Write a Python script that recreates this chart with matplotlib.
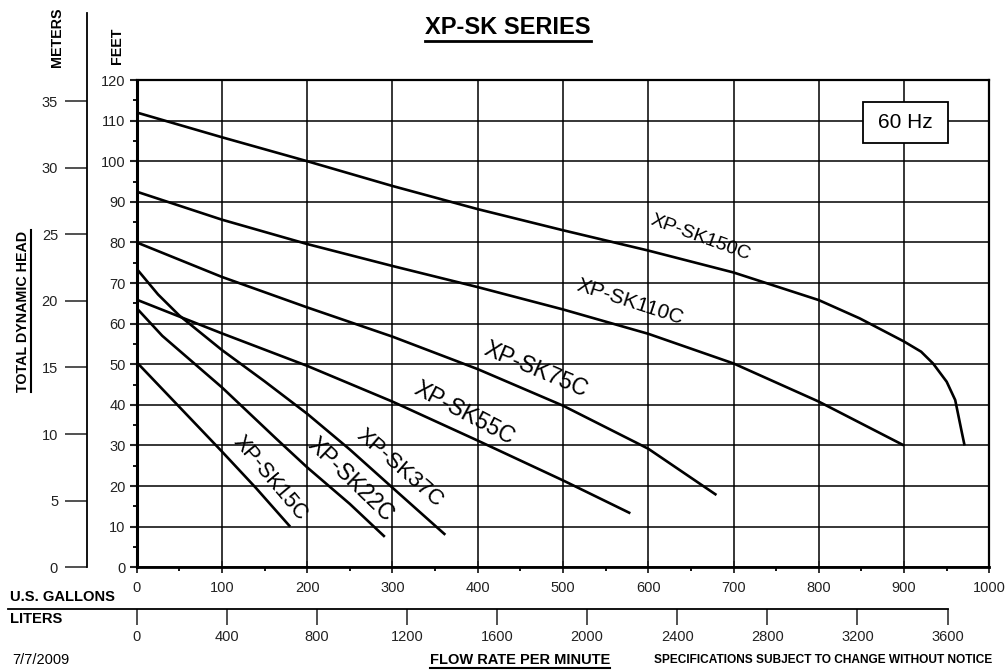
import numpy as np
import matplotlib.pyplot as plt
from matplotlib.lines import Line2D
from matplotlib.patches import Rectangle

plt.rcParams['font.family'] = ['Liberation Sans', 'DejaVu Sans']

# pump curves: flow in US gpm, head in feet
gpm_150 = [0, 100, 200, 300, 400, 500, 600, 700, 800, 848, 900, 920, 934, 950, 960, 964, 968, 971]
ft_150 = [112, 105.9, 100, 93.9, 88.2, 83, 78, 72.6, 65.8, 61.3, 55.6, 53.1, 50.2, 45.7, 41.2, 37.1, 33, 30]

gpm_110 = [0, 100, 200, 300, 400, 500, 600, 700, 800, 900]
ft_110 = [92.5, 85.6, 79.6, 74.2, 69, 63.5, 57.5, 50.2, 40.8, 30]

gpm_75 = [0, 100, 200, 300, 400, 500, 600, 680]
ft_75 = [80, 71.5, 64, 56.8, 48.8, 39.8, 29.2, 17.8]

gpm_55 = [0, 100, 200, 300, 400, 500, 579]
ft_55 = [65.9, 57.6, 49.6, 40.8, 31.2, 21.4, 13.3]

gpm_37 = [0, 25, 50, 100, 150, 200, 250, 300, 362]
ft_37 = [73.5, 67.2, 62, 53.5, 45.8, 37.8, 29, 19.6, 8]

gpm_22 = [0, 30, 100, 164, 200, 250, 291]
ft_22 = [63.8, 57, 44.3, 31.6, 24.6, 15.6, 7.5]

gpm_15 = [0, 50, 100, 140, 180]
ft_15 = [50.5, 39.5, 28.5, 19.5, 10]

models = ['XP-SK150C', 'XP-SK110C', 'XP-SK75C', 'XP-SK55C', 'XP-SK37C', 'XP-SK22C', 'XP-SK15C']
flows = [gpm_150, gpm_110, gpm_75, gpm_55, gpm_37, gpm_22, gpm_15]
heads = [ft_150, ft_110, ft_75, ft_55, ft_37, ft_22, ft_15]

gallon_ticks = list(range(0, 1001, 100))
feet_ticks = list(range(0, 121, 10))
meter_ticks = list(range(0, 36, 5))
liter_ticks = list(range(0, 3601, 400))

# label placement (data coords, screen rotation, font size)
lab_pos = [(661, 81.1), (579, 65.3), (468, 48.6), (384, 38.0), (309, 24.4), (251, 21.7), (156, 21.9)]
lab_rot = [-20, -18, -23, -28, -41, -44, -50]
lab_size = [14, 15, 16.5, 16.5, 16, 16.5, 15.5]

W, H = 1006, 670
fig = plt.figure(figsize=(W / 100, H / 100), dpi=100)
fig.patch.set_facecolor('white')

def fx(x):
    return x / W

def fy(y):
    return 1 - y / H

x0, x1, ytop, ybot = 136.7, 989.3, 80, 567.3
ax = fig.add_axes([fx(x0), fy(ybot), (x1 - x0) / W, (ybot - ytop) / H])
ax.set_xlim(0, 1000)
ax.set_ylim(0, 120)

for g, h in zip(flows, heads):
    ax.plot(g, h, color='black', lw=1.9, solid_capstyle='butt',
            solid_joinstyle='round', zorder=3)

for name, (lx, ly), r, s in zip(models, lab_pos, lab_rot, lab_size):
    ax.text(lx, ly, name, rotation=r, fontsize=s, ha='center', va='center',
            rotation_mode='anchor', color='black', zorder=4)

ax.set_xticks(gallon_ticks)
ax.set_xticks(range(50, 1000, 100), minor=True)
ax.set_yticks(feet_ticks)
ax.set_yticks(range(5, 120, 10), minor=True)
ax.grid(True, which='major', color='black', lw=1.1, zorder=1)
ax.tick_params(axis='x', which='major', direction='inout', length=8, width=1.3,
               pad=6, labelsize=10.5, colors='#222')
ax.tick_params(axis='x', which='minor', direction='out', length=3, width=1.3)
ax.tick_params(axis='y', which='major', direction='out', length=5, width=1.5,
               pad=3, labelsize=10.5, colors='#222')
ax.tick_params(axis='y', which='minor', direction='out', length=3, width=1.3)
ax.spines['left'].set_linewidth(2.2)
ax.spines['bottom'].set_linewidth(2.0)
ax.spines['top'].set_linewidth(1.6)
ax.spines['right'].set_linewidth(1.6)

# 60 Hz box
ax.add_patch(Rectangle((0.852, 0.871), 0.0996, 0.0842, transform=ax.transAxes,
                       facecolor='white', edgecolor='black', lw=1.3, zorder=5))
ax.text(0.902, 0.913, '60 Hz', transform=ax.transAxes, fontsize=15,
        ha='center', va='center', zorder=6)

# meters axis
mtop = 13
mx = fig.add_axes([fx(87), fy(ybot), 0.0001, (ybot - mtop) / H])
top_ft = 120 * (ybot - mtop) / (ybot - ytop)
mx.set_ylim(0, top_ft / 3.2808)
mx.set_yticks(meter_ticks)
mx.set_xticks([])
for sp in ['top', 'right', 'bottom']:
    mx.spines[sp].set_visible(False)
mx.spines['left'].set_linewidth(1.3)
mx.patch.set_alpha(0)
mx.tick_params(axis='y', direction='out', length=15.8, width=1.1, pad=5,
               labelsize=10.5, colors='#222')

# liters axis
sec = ax.secondary_xaxis((ybot - 609) / (ybot - ytop),
                         functions=(lambda g: g * 3.7854, lambda l: l / 3.7854))
sec.set_xticks(liter_ticks)
sec.spines['bottom'].set_visible(False)
sec.tick_params(axis='x', direction='out', length=11.5, width=1.1, pad=3.5,
                labelsize=10.5, colors='#222')
xl = ax.transData.transform((3600 / 3.7854, 0))[0]
fig.add_artist(Line2D([fx(8), xl / W], [fy(609), fy(609)], transform=fig.transFigure,
                      color='black', lw=1.3))

# texts
title = fig.text(fx(508), fy(28), 'XP-SK SERIES', fontsize=17, weight='bold',
                 ha='center', va='center')
tdh = fig.text(fx(23), fy(311), 'TOTAL DYNAMIC HEAD', fontsize=10.3, weight='bold',
               rotation=90, ha='center', va='center')
fig.text(fx(57), fy(37), 'METERS', fontsize=10.3, weight='bold', rotation=90,
         ha='center', va='center')
fig.text(fx(117), fy(46), 'FEET', fontsize=10.3, weight='bold', rotation=90,
         ha='center', va='center')
fig.text(fx(10), fy(597), 'U.S. GALLONS', fontsize=10.6, weight='bold', ha='left', va='center')
fig.text(fx(10), fy(619), 'LITERS', fontsize=10.6, weight='bold', ha='left', va='center')
fig.text(fx(12), fy(660), '7/7/2009', fontsize=10.5, ha='left', va='center')
flow = fig.text(fx(520), fy(660), 'FLOW RATE PER MINUTE', fontsize=10.5, weight='bold',
                ha='center', va='center')
fig.text(fx(823), fy(660), 'SPECIFICATIONS SUBJECT TO CHANGE WITHOUT NOTICE',
         fontsize=8.6, weight='bold', ha='center', va='center')

# underline a few labels
fig.canvas.draw()
rend = fig.canvas.get_renderer()

def underline(t, gap=1.5, lw=1.5, vertical=False):
    bb = t.get_window_extent(rend)
    if vertical:
        x = bb.x1 + gap
        fig.add_artist(Line2D([x / W, x / W], [bb.y0 / H, bb.y1 / H],
                              transform=fig.transFigure, color='black', lw=lw))
    else:
        y = bb.y0 - gap
        fig.add_artist(Line2D([bb.x0 / W, bb.x1 / W], [y / H, y / H],
                              transform=fig.transFigure, color='black', lw=lw))

underline(title, gap=1, lw=2)
underline(tdh, gap=1, lw=1.5, vertical=True)
underline(flow, gap=0.5, lw=1.5)

fig.savefig('out.png', dpi=100)
